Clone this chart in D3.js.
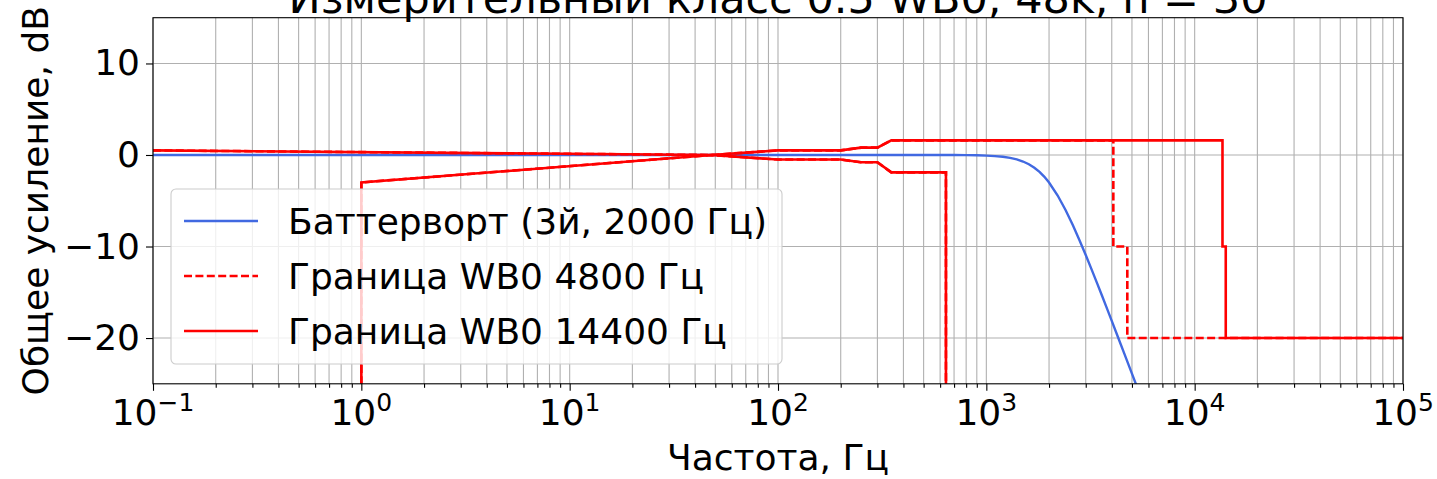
<!DOCTYPE html>
<html>
<head>
<meta charset="utf-8">
<script src="https://cdn.jsdelivr.net/npm/d3@7"></script>
<style>
  body { margin: 0; background: #fff; }
  text { font-family: "DejaVu Sans", sans-serif; fill: #000; }
</style>
</head>
<body>
<svg id="chart" width="1437" height="479"></svg>
<script>
// Butterworth response (3rd order, 2000 Hz), frequency in Hz, gain in dB
const butterFreq = [0.1, 1, 10, 100, 300, 500, 700, 800, 900, 1000, 1100, 1200, 1300, 1400, 1500,
  1600, 1700, 1800, 1900, 2000, 2200, 2400, 2600, 2800, 3000, 3200, 3400, 3600, 3800, 4000,
  4300, 4600, 5000, 5400];
const butterGain = [0, 0, 0, 0, 0, -0.001, -0.008, -0.018, -0.036, -0.067, -0.119, -0.198, -0.316, -0.483, -0.711,
  -1.01, -1.39, -1.85, -2.39, -3.01, -4.43, -6.01, -7.65, -9.31, -10.93, -12.50, -14.00, -15.44, -16.82, -18.13,
  -19.99, -21.73, -23.89, -25.89];

// Lower tolerance bound (shared by both WB0 limits)
const lowerFreq = [1, 1, 48, 100, 200, 250, 300, 350, 640, 640];
const lowerGain = [-40, -3, 0, -0.5, -0.5, -0.8, -0.8, -1.9, -1.9, -40];

// Upper tolerance bound, 4800 Hz variant
const upper4800Freq = [0.1, 48, 100, 200, 250, 300, 350, 4070, 4070, 4750, 4750, 100000];
const upper4800Gain = [0.5, 0, 0.5, 0.5, 0.8, 0.8, 1.6, 1.6, -10, -10, -20, -20];

// Upper tolerance bound, 14400 Hz variant
const upper14400Freq = [0.1, 48, 100, 200, 250, 300, 350, 13600, 13600, 14100, 14100, 100000];
const upper14400Gain = [0.5, 0, 0.5, 0.5, 0.8, 0.8, 1.6, 1.6, -10, -10, -20, -20];

const xTickExponents = [-1, 0, 1, 2, 3, 4, 5];
const yTicks = [10, 0, -10, -20];
const seriesLabels = ["Баттерворт (3й, 2000 Гц)", "Граница WB0 4800 Гц", "Граница WB0 14400 Гц"];
const titleText = "Измерительный класс 0.5 WB0, 48k, n = 30";
const xLabel = "Частота, Гц";
const yLabel = "Общее усиление, dB";

const svg = d3.select("#chart");
const L = 153, R = 1403, T = 17.7, B = 383.8;
const x = d3.scaleLog().domain([0.1, 1e5]).range([L, R]);
const y = d3.scaleLinear().domain([-25, 15]).range([B, T]);

const FS = 36;
const blue = "#4169e1", red = "#ff0000", gridCol = "#b0b0b0";
const blueW = 2.4, redW = 2.6;

// grid
const majors = xTickExponents.map(e => Math.pow(10, e));
const minors = [];
for (let e = -1; e < 5; e++) for (let k = 2; k <= 9; k++) minors.push(k * Math.pow(10, e));

const grid = svg.append("g");
grid.selectAll("line.xg").data(majors.concat(minors)).join("line")
  .attr("x1", d => x(d)).attr("x2", d => x(d)).attr("y1", T).attr("y2", B)
  .attr("stroke", gridCol).attr("stroke-width", 1.1);
grid.selectAll("line.yg").data(yTicks).join("line")
  .attr("x1", L).attr("x2", R).attr("y1", d => y(d)).attr("y2", d => y(d))
  .attr("stroke", gridCol).attr("stroke-width", 1.1);

// data lines
svg.append("clipPath").attr("id", "plotClip").append("rect")
  .attr("x", L).attr("y", T).attr("width", R - L).attr("height", B - T);
const plot = svg.append("g").attr("clip-path", "url(#plotClip)");
const line = d3.line().x(d => x(d[0])).y(d => y(d[1]));
const zip = (a, b) => a.map((v, i) => [v, b[i]]);

plot.append("path").datum(zip(butterFreq, butterGain)).attr("d", line)
  .attr("fill", "none").attr("stroke", blue).attr("stroke-width", blueW);

const dash = "8,3.4";
plot.append("path").datum(zip(upper4800Freq, upper4800Gain)).attr("d", line)
  .attr("fill", "none").attr("stroke", red).attr("stroke-width", redW).attr("stroke-dasharray", dash);
plot.append("path").datum(zip(lowerFreq, lowerGain)).attr("d", line)
  .attr("fill", "none").attr("stroke", red).attr("stroke-width", redW).attr("stroke-dasharray", dash);
plot.append("path").datum(zip(upper14400Freq, upper14400Gain)).attr("d", line)
  .attr("fill", "none").attr("stroke", red).attr("stroke-width", redW);
plot.append("path").datum(zip(lowerFreq, lowerGain)).attr("d", line)
  .attr("fill", "none").attr("stroke", red).attr("stroke-width", redW);

// axes
const xAxis = svg.append("g").attr("transform", `translate(0,${B})`);
xAxis.call(d3.axisBottom(x).tickValues(majors).tickSize(7).tickFormat(""));
const xMinor = svg.append("g").attr("transform", `translate(0,${B})`);
xMinor.call(d3.axisBottom(x).tickValues(minors).tickSize(4).tickFormat(""));
[xAxis, xMinor].forEach(g => { g.select(".domain").remove(); g.selectAll("line").attr("stroke", "#000").attr("stroke-width", 1.1); });

const xl = svg.append("g").selectAll("text").data(xTickExponents).join("text")
  .attr("x", d => x(Math.pow(10, d))).attr("y", 425)
  .attr("text-anchor", "middle").attr("font-size", FS);
xl.append("tspan").text("10");
xl.append("tspan").attr("font-size", 25).attr("dy", -14)
  .text(d => String(d).replace("-", "\u2212"));

const yAxis = svg.append("g").attr("transform", `translate(${L},0)`);
yAxis.call(d3.axisLeft(y).tickValues(yTicks).tickSize(7).tickPadding(6)
  .tickFormat(d => String(d).replace("-", "\u2212")));
yAxis.select(".domain").remove();
yAxis.selectAll("line").attr("stroke", "#000").attr("stroke-width", 1.1);
yAxis.selectAll("text").attr("font-size", FS).attr("font-family", "DejaVu Sans").attr("fill", "#000");

// frame
svg.append("rect").attr("x", L).attr("y", T).attr("width", R - L).attr("height", B - T)
  .attr("fill", "none").attr("stroke", "#000").attr("stroke-width", 1.1);

// labels
svg.append("text").attr("x", (L + R) / 2).attr("y", 12.5).attr("text-anchor", "middle")
  .attr("font-size", 43).text(titleText);
svg.append("text").attr("x", (L + R) / 2).attr("y", 470).attr("text-anchor", "middle")
  .attr("font-size", FS).text(xLabel);
svg.append("text").attr("transform", `translate(48,${(T + B) / 2}) rotate(-90)`)
  .attr("text-anchor", "middle").attr("font-size", FS).text(yLabel);

// legend
const lg = svg.append("g");
lg.append("rect").attr("x", 171).attr("y", 189).attr("width", 611).attr("height", 175).attr("rx", 5)
  .attr("fill", "#fff").attr("fill-opacity", 0.8).attr("stroke", "#cccccc").attr("stroke-width", 1.1);
const legendStyles = [
  { color: blue, dash: null, w: blueW },
  { color: red, dash: dash, w: redW },
  { color: red, dash: null, w: redW }
];
seriesLabels.forEach((lab, i) => {
  const cy = 221 + i * 55;
  lg.append("line").attr("x1", 184).attr("x2", 258).attr("y1", cy).attr("y2", cy)
    .attr("stroke", legendStyles[i].color).attr("stroke-width", legendStyles[i].w)
    .attr("stroke-dasharray", legendStyles[i].dash);
  lg.append("text").attr("x", 288).attr("y", cy + 13).attr("font-size", FS).text(lab);
});
</script>
</body>
</html>
